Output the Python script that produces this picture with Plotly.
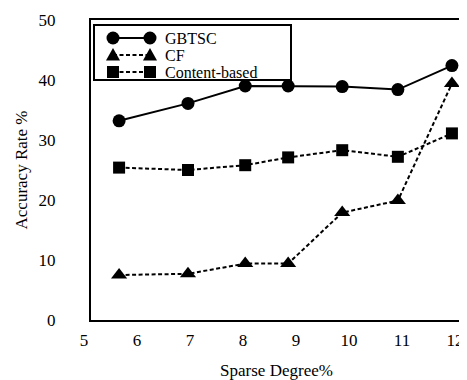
import plotly.graph_objects as go

sparse_degree = [5.53, 6.83, 7.91, 8.72, 9.74, 10.79, 11.81]
gbtsc = [33.2, 36.1, 39.0, 39.0, 38.9, 38.4, 42.4]
cf = [7.5, 7.7, 9.4, 9.4, 17.9, 19.9, 39.4]
content_based = [25.4, 25.0, 25.8, 27.1, 28.3, 27.2, 31.1]
series_names = ["GBTSC", "CF", "Content-based"]
x_ticks = [5, 6, 7, 8, 9, 10, 11, 12]
y_ticks = [0, 10, 20, 30, 40, 50]

font_family = "Liberation Serif, Times New Roman, serif"
DASH = "4px,2.5px"
styles = [
    dict(dash="solid", symbol="circle", size=13),
    dict(dash=DASH, symbol="triangle-up", size=14),
    dict(dash=DASH, symbol="square", size=12),
]

fig = go.Figure()
for name, ys, st in zip(series_names, [gbtsc, cf, content_based], styles):
    fig.add_trace(go.Scatter(
        x=sparse_degree, y=ys, name=name, mode="lines+markers", showlegend=False,
        line=dict(color="black", width=2, dash=st["dash"]),
        marker=dict(symbol=st["symbol"], size=st["size"], color="black")))

# --- Excel-style legend drawn with shapes/annotations (paper coords = plot area) ---
W, H = 371.0, 300.0  # plot area size in px
def px(x):
    return x / W
def py(y):
    return 1 - y / H

shapes = [dict(type="rect", xref="paper", yref="paper",
               x0=px(3), x1=px(200), y0=py(5), y1=py(60),
               line=dict(color="black", width=2), fillcolor="white", layer="above")]
annotations = []
row_y = [18, 35, 52]
xa, xb = 22, 59
for i, name in enumerate(series_names):
    yy = py(row_y[i])
    shapes.append(dict(type="line", xref="paper", yref="paper",
                       x0=px(xa), x1=px(xb), y0=yy, y1=yy, layer="above",
                       line=dict(color="black", width=2,
                                 dash=None if styles[i]["dash"] == "solid" else DASH)))
    for xc in (xa, xb):
        common = dict(xref="paper", yref="paper", xsizemode="pixel", ysizemode="pixel",
                      xanchor=px(xc), yanchor=yy, fillcolor="black",
                      line=dict(color="black", width=0), layer="above")
        if i == 0:
            shapes.append(dict(type="circle", x0=-6.5, x1=6.5, y0=-6.5, y1=6.5, **common))
        elif i == 1:
            shapes.append(dict(type="path", path="M-7,-5.5 L7,-5.5 L0,7 Z", **common))
        else:
            shapes.append(dict(type="rect", x0=-6, x1=6, y0=-6, y1=6, **common))
    annotations.append(dict(text=name, xref="paper", yref="paper", x=px(72), y=yy,
                            xanchor="left", yanchor="middle", showarrow=False,
                            font=dict(size=16, family=font_family, color="black")))

fig.update_layout(
    width=459, height=372,
    margin=dict(l=83, r=5, t=12, b=60, autoexpand=False),
    paper_bgcolor="white", plot_bgcolor="white",
    font=dict(family=font_family, color="black", size=17),
    shapes=shapes, annotations=annotations,
    xaxis=dict(range=[5, 12], tickvals=x_ticks, ticktext=[str(v) for v in x_ticks],
               showgrid=False, zeroline=False, showline=True, linecolor="black",
               linewidth=2, mirror=True, ticks="", ticklabelstandoff=4,
               ticklabelshift=-7, tickfont=dict(size=17), automargin=False,
               ticklabeloverflow="allow",
               title=dict(text="Sparse Degree%", font=dict(size=17), standoff=16)),
    yaxis=dict(range=[0, 50], tickvals=y_ticks, showgrid=False, zeroline=False,
               showline=True, linecolor="black", linewidth=2, mirror=True,
               ticks="", ticklabelstandoff=30, tickfont=dict(size=17), automargin=False,
               title=dict(text="Accuracy Rate %", font=dict(size=17), standoff=7)),
)

fig.write_html("out.html")
